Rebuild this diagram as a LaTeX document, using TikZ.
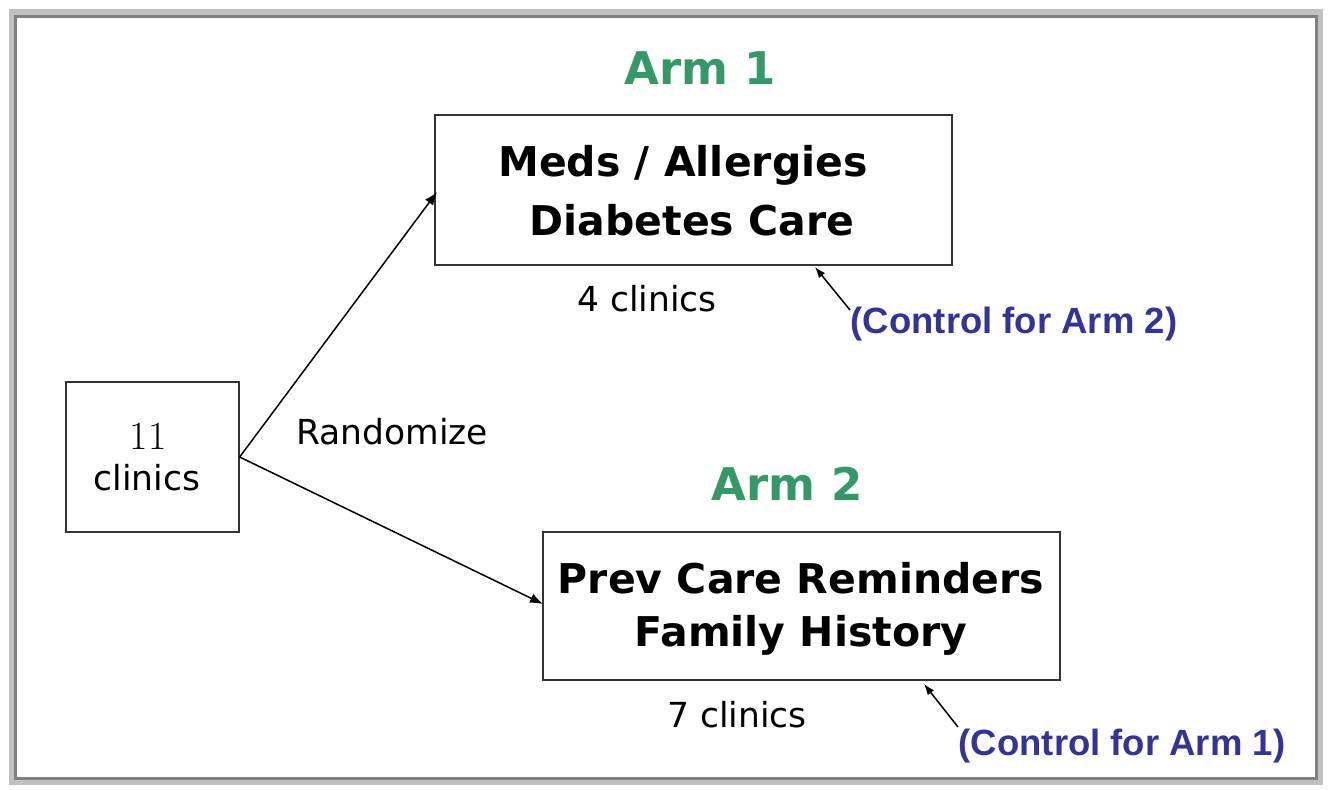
\documentclass[tikz,border=0pt]{standalone}
\usepackage{fontspec}
\setmainfont{DejaVu Sans}
\newfontfamily\arialfont{Liberation Sans}
\newfontfamily\numfont{Latin Modern Roman}
\usetikzlibrary{arrows.meta}
\definecolor{armgreen}{RGB}{51,153,102}
\definecolor{ctrlblue}{RGB}{51,51,153}
\definecolor{frameLight}{RGB}{192,192,192}
\definecolor{frameDark}{RGB}{128,128,128}
\tikzset{
  box/.style={draw=black!80, line width=1.3pt, inner sep=0pt, align=center},
  armlabel/.style={text=armgreen, font=\fontsize{45}{56}\selectfont\bfseries},
  boxtext/.style={font=\fontsize{41}{56}\selectfont\bfseries},
  plain/.style={font=\fontsize{34.5}{40}\selectfont},
  ctrl/.style={text=ctrlblue, font=\arialfont\fontsize{36.5}{40}\selectfont\bfseries},
  conn/.style={draw=black, line width=1.5pt, -{Latex[length=13pt,width=10pt]}},
  small/.style={draw=black, line width=1.5pt, -{Latex[length=11pt,width=8pt]}}
}
\begin{document}
\begin{tikzpicture}[x=1pt,y=-1pt]
\useasboundingbox (0,0) rectangle (1331,790);
\fill[white] (0,0) rectangle (1331,790);
% frame
\draw[frameLight, line width=7pt] (12,12) rectangle (1319,781);
\draw[frameDark, line width=3pt] (15.5,16.5) rectangle (1316,778);
% nodes
\node[box, minimum width=173pt, minimum height=150pt] (src) at (152.5,457) {};
\node[font=\numfont\fontsize{40}{44}\selectfont] (n11) at (148,436) {11};
\node[plain] (srcl) at (147,478) {clinics};
\node[box, minimum width=517pt, minimum height=150pt] (a1) at (693.5,190) {};
\node[boxtext] (a1t1) at (683,165) {Meds / Allergies};
\node[boxtext] (a1t2) at (692,220) {Diabetes Care};
\node[box, minimum width=517pt, minimum height=148pt] (a2) at (801.5,606) {};
\node[boxtext] (a2t1) at (801,578) {Prev Care Reminders};
\node[boxtext] (a2t2) at (801,635) {Family History};
\node[armlabel] (arm1) at (700,68) {Arm 1};
\node[armlabel] (arm2) at (787,484) {Arm 2};
\node[plain] (c4) at (647,299) {4 clinics};
\node[plain] (c7) at (737,715) {7 clinics};
\node[plain] (rand) at (392,432) {Randomize};
\node[ctrl] (ctl2) at (1014,324) {(Control for Arm 2)};
\node[ctrl] (ctl1) at (1122,746) {(Control for Arm 1)};
% connectors
\coordinate (a1in) at (437,192);
\coordinate (a2in) at (543,604);
\draw[conn] (src.east) -- (a1in);
\draw[conn] (src.east) -- (a2in);
\coordinate (p2s) at (850,310);
\coordinate (p2e) at (815,267);
\coordinate (p1s) at (958,727);
\coordinate (p1e) at (924,684);
\draw[small] (p2s) -- (p2e);
\draw[small] (p1s) -- (p1e);
\end{tikzpicture}
\end{document}
